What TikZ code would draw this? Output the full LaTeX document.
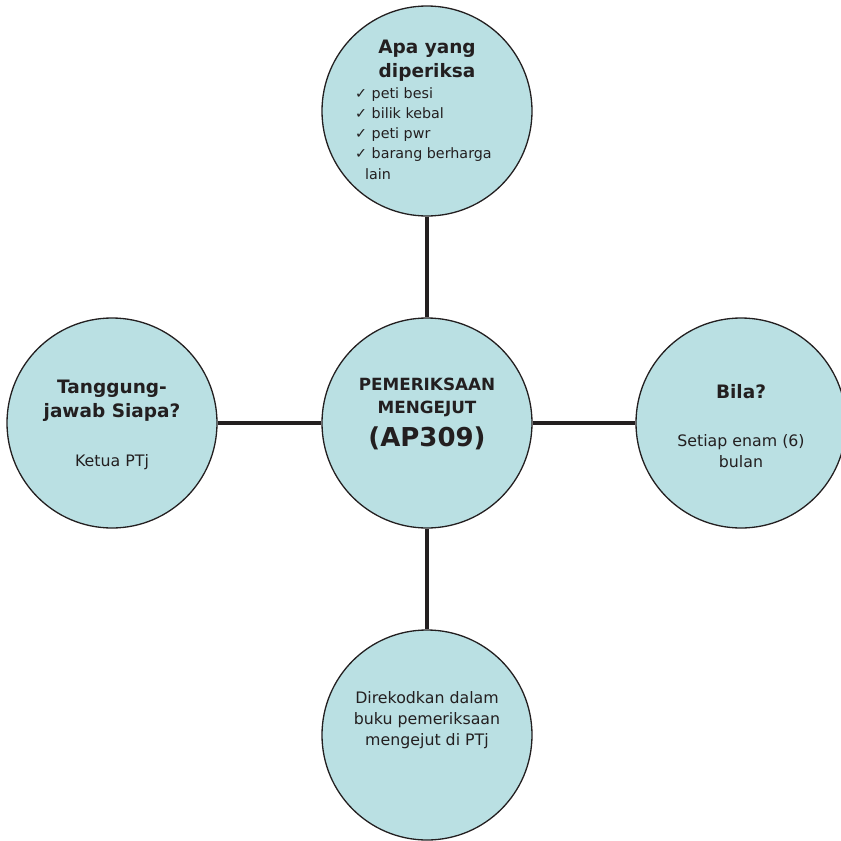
\documentclass[tikz,border=0pt]{standalone}
\usepackage{fontspec}
\setmainfont{DejaVu Sans}
\definecolor{bubblefill}{RGB}{186,224,227}
\definecolor{ink}{RGB}{35,31,32}
\tikzset{
	bubble/.style={circle, draw=ink, line width=1.3pt, fill=bubblefill, minimum size=210pt, inner sep=0pt},
	link/.style={draw=ink, line width=3.4pt},
	head/.style={font=\bfseries\fontsize{18.5}{24}\selectfont, text=ink, align=center},
	body/.style={font=\fontsize{15.8}{21}\selectfont, text=ink, align=center},
	checks/.style={font=\fontsize{14.3}{20.3}\selectfont, text=ink, align=left, inner sep=0pt}
}

\begin{document}
\begin{tikzpicture}[x=1pt, y=-1pt]
	\useasboundingbox (0,0) rectangle (841,841);

	\node[bubble] (what) at (427,111) {};
	\node[bubble] (core) at (427,423) {};
	\node[bubble] (who) at (112,423) {};
	\node[bubble] (when) at (741,423) {};
	\node[bubble] (record) at (427,735) {};

	\draw[link] (what) -- (core);
	\draw[link] (who) -- (core);
	\draw[link] (core) -- (when);
	\draw[link] (core) -- (record);

	\node[head] (whattitle) at (427,61) {Apa yang\\diperiksa};
	\node[checks, anchor=north west] (whatlist) at (355,87) {✓ peti besi\\✓ bilik kebal\\✓ peti pwr\\✓ barang berharga\\\hspace*{10pt}lain};

	\node[head, font=\bfseries\fontsize{16.8}{23}\selectfont] (coretitle) at (427,397) {PEMERIKSAAN\\MENGEJUT};
	\node[head, font=\bfseries\fontsize{26}{30}\selectfont] (corecode) at (427,438) {(AP309)};

	\node[head] (whotitle) at (112,401) {Tanggung-\\jawab Siapa?};
	\node[body] (whotext) at (112,462) {Ketua PTj};

	\node[head] (whentitle) at (741,392) {Bila?};
	\node[body] (whentext) at (741,451) {Setiap enam (6)\\bulan};

	\node[body] (recordtext) at (427,720) {Direkodkan dalam\\buku pemeriksaan\\mengejut di PTj};
\end{tikzpicture}
\end{document}
